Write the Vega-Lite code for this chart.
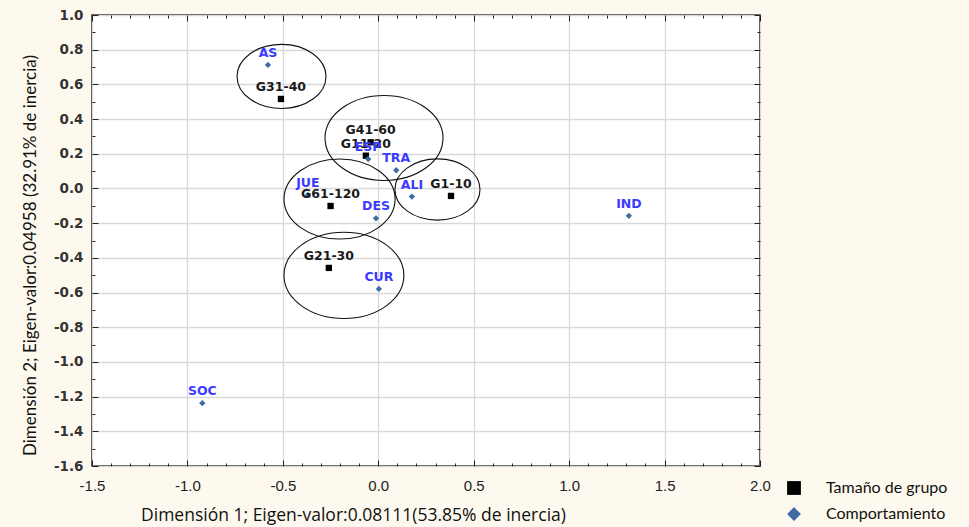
{
  "$schema": "https://vega.github.io/schema/vega-lite/v6.json",
  "width": 668,
  "height": 451,
  "autosize": {"type": "none"},
  "padding": {"left": 92, "top": 15, "right": 209, "bottom": 61},
  "background": "#fef9ee",
  "config": {"view": {"fill": "white", "stroke": "#111", "strokeWidth": 1.5}},
  "datasets": {
    "puntos": [
      {"etiqueta": "AS", "tipo": "Comportamiento", "x": -0.578, "y": 0.712},
      {"etiqueta": "G31-40", "tipo": "Tamaño de grupo", "x": -0.510, "y": 0.516},
      {"etiqueta": "G41-60", "tipo": "Tamaño de grupo", "x": -0.040, "y": 0.266},
      {"etiqueta": "G11-20", "tipo": "Tamaño de grupo", "x": -0.065, "y": 0.189},
      {"etiqueta": "ESP", "tipo": "Comportamiento", "x": -0.053, "y": 0.170},
      {"etiqueta": "TRA", "tipo": "Comportamiento", "x": 0.094, "y": 0.105},
      {"etiqueta": "ALI", "tipo": "Comportamiento", "x": 0.176, "y": -0.047},
      {"etiqueta": "G1-10", "tipo": "Tamaño de grupo", "x": 0.381, "y": -0.043},
      {"etiqueta": "G61-120", "tipo": "Tamaño de grupo", "x": -0.250, "y": -0.101},
      {"etiqueta": "DES", "tipo": "Comportamiento", "x": -0.012, "y": -0.172},
      {"etiqueta": "JUE", "tipo": "Comportamiento", "x": -0.369, "y": -0.037},
      {"etiqueta": "G21-30", "tipo": "Tamaño de grupo", "x": -0.259, "y": -0.458},
      {"etiqueta": "CUR", "tipo": "Comportamiento", "x": 0.003, "y": -0.579},
      {"etiqueta": "IND", "tipo": "Comportamiento", "x": 1.313, "y": -0.158},
      {"etiqueta": "SOC", "tipo": "Comportamiento", "x": -0.922, "y": -1.238}
    ],
    "elipses": [
      {"grupo": "G31-40", "cx": -0.507, "cy": 0.646, "rx": 0.233},
      {"grupo": "G41-60", "cx": 0.030, "cy": 0.291, "rx": 0.309},
      {"grupo": "G61-120", "cx": -0.203, "cy": -0.061, "rx": 0.291},
      {"grupo": "G1-10", "cx": 0.310, "cy": -0.006, "rx": 0.223},
      {"grupo": "G21-30", "cx": -0.180, "cy": -0.501, "rx": 0.314}
    ]
  },
  "layer": [
    {
      "data": {"name": "elipses"},
      "mark": {"type": "point", "filled": false, "stroke": "#111", "strokeWidth": 1.1, "opacity": 1, "shape": "M -1 0 A 1 0.72 0 1 1 1 0 A 1 0.72 0 1 1 -1 0 Z"},
      "encoding": {
        "x": {
          "field": "cx", "type": "quantitative",
          "scale": {"domain": [-1.5, 2.0], "nice": false, "zero": false},
          "axis": {
            "orient": "bottom",
            "values": [-1.5,-1.4,-1.3,-1.2,-1.1,-1.0,-0.9,-0.8,-0.7,-0.6,-0.5,-0.4,-0.3,-0.2,-0.1,0,0.1,0.2,0.3,0.4,0.5,0.6,0.7,0.8,0.9,1.0,1.1,1.2,1.3,1.4,1.5,1.6,1.7,1.8,1.9,2.0],
            "labelExpr": "abs(datum.value*2-round(datum.value*2))<0.001 ? replace(format(datum.value,'.1f'),'−','-') : ''",
            "labelFlush": false,
            "labelOverlap": false,
            "tickSize": {"condition": {"test": "abs(datum.value*2-round(datum.value*2))<0.001", "value": -6}, "value": -3},
            "tickColor": "#222",
            "tickWidth": 1,
            "domain": false,
            "grid": true,
            "gridColor": "#d9d9d9",
            "gridWidth": 1.3,
            "gridOpacity": {"condition": {"test": "abs(datum.value*2-round(datum.value*2))<0.001", "value": 1}, "value": 0},
            "labelFont": "Liberation Sans",
            "labelFontSize": 15,
            "labelColor": "#222",
            "labelPadding": 18,
            "title": "Dimensión 1; Eigen-valor:0.08111(53.85% de inercia)",
            "titleFont": "Open Sans",
            "titleFontSize": 17.5,
            "titleFontWeight": "normal",
            "titleColor": "#111",
            "titleX": 261,
            "titleY": 49,
            "titleAlign": "center",
            "titleBaseline": "middle"
          }
        },
        "y": {
          "field": "cy", "type": "quantitative",
          "scale": {"domain": [-1.6, 1.0], "nice": false, "zero": false},
          "axis": {
            "orient": "left",
            "values": [-1.6,-1.5,-1.4,-1.3,-1.2,-1.1,-1.0,-0.9,-0.8,-0.7,-0.6,-0.5,-0.4,-0.3,-0.2,-0.1,0,0.1,0.2,0.3,0.4,0.5,0.6,0.7,0.8,0.9,1.0],
            "labelExpr": "abs(datum.value*5-round(datum.value*5))<0.001 ? replace(format(datum.value,'.1f'),'−','-') : ''",
            "labelOverlap": false,
            "labelFlush": false,
            "tickSize": {"condition": {"test": "abs(datum.value*5-round(datum.value*5))<0.001", "value": -6}, "value": -3},
            "tickColor": "#222",
            "domain": false,
            "grid": true,
            "gridColor": "#d9d9d9",
            "gridWidth": 1.3,
            "gridOpacity": {"condition": {"test": "abs(datum.value*5-round(datum.value*5))<0.001", "value": 1}, "value": 0},
            "labelFont": "DejaVu Sans",
            "labelFontSize": 13.5,
            "labelFontWeight": "bold",
            "labelColor": "#333",
            "labelPadding": 15,
            "title": "Dimensión 2; Eigen-valor:0.04958 (32.91% de inercia)",
            "titleFont": "Lato",
            "titleFontSize": 17,
            "titleFontWeight": "normal",
            "titleColor": "#111",
            "titleX": -62,
            "titleY": 240,
            "titleAngle": -90,
            "titleAlign": "center",
            "titleBaseline": "middle"
          }
        },
        "size": {
          "field": "rx", "type": "quantitative",
          "scale": {"type": "pow", "exponent": 2, "domain": [0, 1], "range": [0, 145771]},
          "legend": null
        }
      }
    },
    {
      "data": {"name": "puntos"},
      "mark": {"type": "point", "filled": true, "size": 40, "opacity": 1},
      "encoding": {
        "x": {
          "field": "x", "type": "quantitative",
          "axis": {
            "orient": "top",
            "values": [-1.5,-1.4,-1.3,-1.2,-1.1,-1.0,-0.9,-0.8,-0.7,-0.6,-0.5,-0.4,-0.3,-0.2,-0.1,0,0.1,0.2,0.3,0.4,0.5,0.6,0.7,0.8,0.9,1.0,1.1,1.2,1.3,1.4,1.5,1.6,1.7,1.8,1.9,2.0],
            "labels": false,
            "tickSize": {"condition": {"test": "abs(datum.value*2-round(datum.value*2))<0.001", "value": -6}, "value": -3},
            "tickColor": "#222",
            "domain": false,
            "grid": false,
            "title": null
          }
        },
        "y": {
          "field": "y", "type": "quantitative",
          "axis": {
            "orient": "right",
            "values": [-1.6,-1.5,-1.4,-1.3,-1.2,-1.1,-1.0,-0.9,-0.8,-0.7,-0.6,-0.5,-0.4,-0.3,-0.2,-0.1,0,0.1,0.2,0.3,0.4,0.5,0.6,0.7,0.8,0.9,1.0],
            "labels": false,
            "tickSize": {"condition": {"test": "abs(datum.value*5-round(datum.value*5))<0.001", "value": -6}, "value": -3},
            "tickColor": "#222",
            "domain": false,
            "grid": false,
            "title": null
          }
        },
        "shape": {
          "field": "tipo", "type": "nominal",
          "scale": {"domain": ["Tamaño de grupo", "Comportamiento"], "range": ["square", "diamond"]},
          "legend": {
            "orient": "none", "legendX": 694, "legendY": 465, "title": null,
            "symbolSize": 190, "labelFont": "Lato", "labelFontSize": 16, "labelColor": "#111",
            "labelOffset": 24, "rowPadding": 10, "symbolStrokeWidth": 0
          }
        },
        "color": {
          "field": "tipo", "type": "nominal",
          "scale": {"domain": ["Tamaño de grupo", "Comportamiento"], "range": ["#000000", "#3d6ca6"]},
          "legend": {
            "orient": "none", "legendX": 694, "legendY": 465, "title": null,
            "symbolSize": 190, "labelFont": "Lato", "labelFontSize": 16, "labelColor": "#111",
            "labelOffset": 24, "rowPadding": 10, "symbolStrokeWidth": 0
          }
        }
      }
    },
    {
      "data": {"name": "puntos"},
      "transform": [{"filter": "datum.tipo === 'Tamaño de grupo'"}],
      "mark": {"type": "text", "font": "DejaVu Sans", "fontSize": 12.5, "fontWeight": "bold", "color": "#1a1a1a", "dy": -12, "baseline": "middle", "align": "center"},
      "encoding": {
        "x": {"field": "x", "type": "quantitative", "axis": null},
        "y": {"field": "y", "type": "quantitative", "axis": null},
        "text": {"field": "etiqueta"}
      }
    },
    {
      "data": {"name": "puntos"},
      "transform": [{"filter": "datum.tipo === 'Comportamiento'"}],
      "mark": {"type": "text", "font": "DejaVu Sans", "fontSize": 12.5, "fontWeight": "bold", "color": "#3b3bff", "dy": -12, "baseline": "middle", "align": "center"},
      "encoding": {
        "x": {"field": "x", "type": "quantitative", "axis": null},
        "y": {"field": "y", "type": "quantitative", "axis": null},
        "text": {"field": "etiqueta"}
      }
    }
  ],
  "resolve": {"axis": {"x": "independent", "y": "independent"}}
}
